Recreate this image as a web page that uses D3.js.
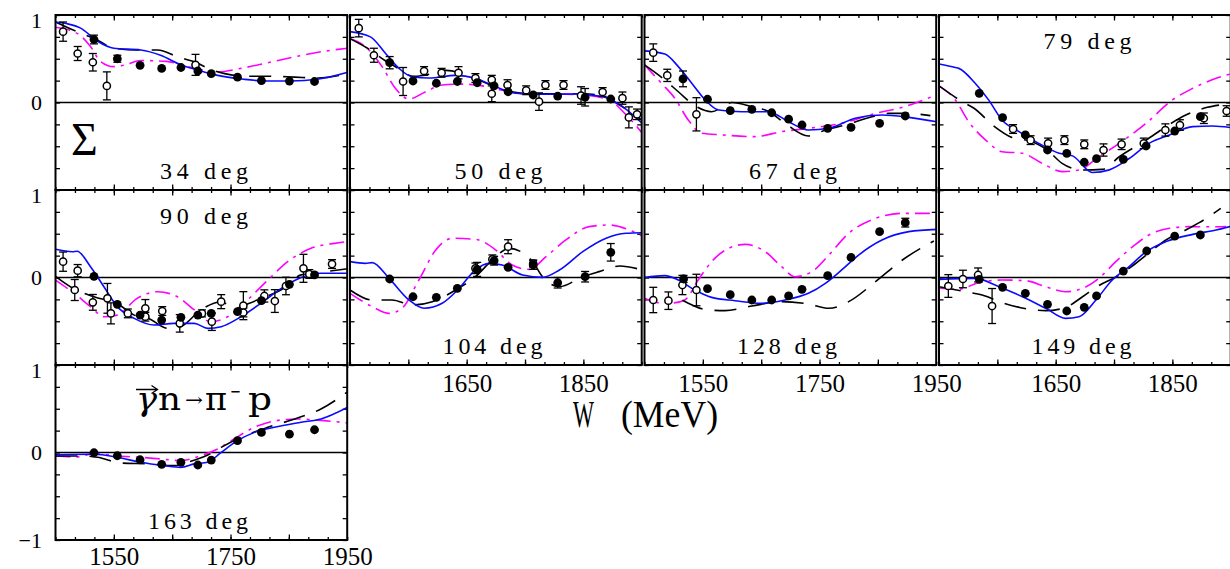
<!DOCTYPE html>
<html><head><meta charset="utf-8">
<script src="https://cdn.jsdelivr.net/npm/d3@7"></script>
<style>body{margin:0;background:#fff}svg{display:block}</style>
</head><body>
<svg id="chart" width="1230" height="569"></svg>
<script>
// ---------------- DATA ----------------
const panelAngles = ["34 deg","50 deg","67 deg","79 deg","90 deg","104 deg","128 deg","149 deg","163 deg"];
const wDomain = [1450, 1950];
const sigmaDomain = [-1, 1];
const xLabelsEven = [1550, 1750, 1950];
const xLabelsOdd = [1650, 1850];
const yLabelsTop = [1, 0];
const yLabelsBottom = [1, 0, -1];

// open circles: [W, Sigma, error]
const openPoints = [
  [[1463,0.81,0.11],[1488,0.56,0.08],[1514,0.46,0.10],[1538,0.19,0.16],[1690,0.43,0.12]],
  [[1465,0.85,0.10],[1491,0.54,0.08],[1541,0.24,0.16],[1577,0.36,0.05],[1607,0.34,0.05],[1636,0.34,0.07],[1665,0.28,0.05],[1693,0.26,0.05],[1693,0.10,0.09],[1720,0.20,0.06],[1752,0.14,0.05],[1774,0.01,0.10],[1785,0.20,0.05],[1816,0.20,0.05],[1846,0.08,0.10],[1883,0.12,0.05],[1917,0.05,0.07],[1928,-0.17,0.12],[1942,-0.135,0.06]],
  [[1465,0.57,0.10],[1489,0.31,0.07],[1539,-0.135,0.19]],
  [[1577,-0.303,0.05],[1607,-0.43,0.05],[1637,-0.467,0.06],[1665,-0.43,0.05],[1699,-0.478,0.05],[1732,-0.543,0.07],[1763,-0.478,0.06],[1801,-0.467,0.06],[1838,-0.314,0.07],[1863,-0.257,0.06],[1904,-0.18,0.06],[1943,-0.097,0.06]],
  [[1463,0.181,0.11],[1488,0.078,0.07],[1483,-0.143,0.12],[1514,-0.284,0.09],[1539,-0.238,0.17],[1545,-0.41,0.12],[1574,-0.41,0.05],[1604,-0.352,0.10],[1604,-0.448,0.05],[1633,-0.383,0.05],[1663,-0.524,0.10],[1701,-0.41,0.04],[1718,-0.505,0.10],[1734,-0.276,0.08],[1772,-0.322,0.16],[1772,-0.40,0.05],[1808,-0.211,0.07],[1826,-0.269,0.13],[1845,-0.097,0.10],[1875,0.105,0.16],[1885,0.04,0.05],[1924,0.154,0.05]],
  [[1665,0.105,0.06],[1694,0.208,0.05],[1721,0.352,0.08],[1764,0.16,0.04]],
  [[1465,-0.257,0.145],[1491,-0.265,0.10],[1515,-0.086,0.11],[1539,-0.143,0.18]],
  [[1466,-0.097,0.13],[1491,-0.017,0.10],[1517,0.029,0.08],[1541,-0.326,0.20]],
  []
];

// filled circles: [W, Sigma, error]
const solidPoints = [
  [[1516,0.72,0.05],[1556,0.50,0.04],[1595,0.425,0],[1632,0.39,0],[1665,0.40,0],[1694,0.36,0],[1717,0.33,0],[1762,0.29,0],[1803,0.25,0],[1851,0.245,0],[1894,0.24,0]],
  [[1518,0.455,0.07],[1558,0.246,0],[1598,0.22,0],[1634,0.24,0],[1668,0.226,0],[1697,0.19,0],[1721,0.123,0],[1764,0.086,0],[1806,0.074,0],[1853,0.06,0.10],[1897,0.04,0]],
  [[1516,0.27,0.09],[1558,0.037,0],[1597,-0.093,0],[1634,-0.078,0],[1668,-0.117,0],[1697,-0.19,0],[1720,-0.257,0],[1764,-0.295,0],[1804,-0.284,0],[1853,-0.238,0],[1897,-0.154,0]],
  [[1519,0.105,0],[1559,-0.173,0],[1598,-0.371,0],[1636,-0.543,0],[1669,-0.581,0],[1699,-0.683,0],[1720,-0.642,0],[1766,-0.649,0],[1805,-0.497,0],[1854,-0.326,0],[1898,-0.162,0]],
  [[1516,0.013,0],[1556,-0.306,0],[1595,-0.429,0],[1632,-0.486,0],[1665,-0.455,0],[1694,-0.429,0],[1717,-0.41,0],[1762,-0.39,0],[1803,-0.265,0],[1851,-0.078,0],[1894,0.029,0]],
  [[1518,-0.017,0],[1558,-0.22,0],[1598,-0.227,0],[1634,-0.124,0],[1668,0.093,0.08],[1697,0.192,0.05],[1721,0.116,0],[1764,0.143,0.05],[1806,-0.06,0.06],[1853,0.009,0.06],[1897,0.288,0.10]],
  [[1517,-0.017,0.04],[1558,-0.128,0],[1597,-0.196,0],[1634,-0.257,0],[1668,-0.257,0],[1697,-0.211,0],[1720,-0.135,0],[1764,0.021,0],[1804,0.23,0],[1853,0.524,0],[1897,0.627,0.05]],
  [[1519,-0.021,0],[1559,-0.112,0],[1598,-0.181,0],[1636,-0.307,0],[1669,-0.383,0],[1699,-0.341,0],[1720,-0.211,0],[1766,0.074,0],[1806,0.303,0],[1854,0.474,0],[1898,0.486,0]],
  [[1516,-0.003,0],[1556,-0.037,0],[1595,-0.083,0],[1632,-0.135,0],[1665,-0.112,0],[1694,-0.143,0],[1717,-0.086,0],[1762,0.135,0],[1803,0.23,0],[1851,0.21,0],[1894,0.26,0]]
];

// solid blue curves: [W, Sigma]
const blueCurves = [
  [[1450,0.92],[1470,0.90],[1493,0.85],[1522,0.70],[1550,0.62],[1596,0.60],[1630,0.54],[1665,0.43],[1699,0.36],[1728,0.31],[1773,0.265],[1813,0.245],[1854,0.245],[1899,0.265],[1951,0.345]],
  [[1450,0.81],[1485,0.75],[1511,0.56],[1534,0.39],[1556,0.295],[1586,0.28],[1631,0.31],[1665,0.276],[1700,0.18],[1734,0.105],[1780,0.094],[1837,0.097],[1883,0.067],[1917,-0.048],[1951,-0.24]],
  [[1450,0.59],[1485,0.554],[1508,0.41],[1531,0.22],[1554,0.03],[1577,-0.086],[1617,-0.105],[1662,-0.105],[1697,-0.22],[1731,-0.314],[1766,-0.295],[1811,-0.18],[1857,-0.143],[1903,-0.17],[1951,-0.22]],
  [[1450,0.44],[1478,0.40],[1484,0.39],[1512,0.22],[1535,0.03],[1558,-0.2],[1587,-0.333],[1621,-0.467],[1656,-0.58],[1679,-0.61],[1713,-0.80],[1742,-0.77],[1776,-0.64],[1810,-0.467],[1845,-0.371],[1885,-0.276],[1919,-0.269],[1953,-0.29]],
  [[1450,0.322],[1479,0.295],[1487,0.30],[1510,0.124],[1533,-0.105],[1556,-0.333],[1585,-0.467],[1619,-0.543],[1653,-0.524],[1688,-0.524],[1711,-0.581],[1734,-0.562],[1768,-0.448],[1802,-0.295],[1837,-0.124],[1871,0.0],[1905,0.048],[1951,0.048]],
  [[1450,0.181],[1476,0.162],[1488,0.17],[1517,-0.01],[1551,-0.257],[1577,-0.352],[1608,-0.295],[1637,-0.124],[1665,0.086],[1688,0.162],[1711,0.143],[1746,0.029],[1780,0.002],[1809,0.086],[1849,0.295],[1889,0.448],[1923,0.505],[1951,0.512]],
  [[1450,0.0],[1485,0.021],[1508,-0.029],[1536,-0.143],[1565,-0.227],[1605,-0.265],[1651,-0.295],[1691,-0.257],[1731,-0.181],[1760,-0.067],[1788,0.086],[1817,0.257],[1857,0.429],[1903,0.524],[1951,0.55]],
  [[1450,-0.021],[1512,-0.01],[1553,-0.105],[1593,-0.22],[1633,-0.352],[1667,-0.467],[1690,-0.448],[1719,-0.257],[1747,-0.029],[1776,0.124],[1805,0.295],[1839,0.41],[1885,0.493],[1925,0.543],[1953,0.589]],
  [[1450,-0.025],[1516,-0.02],[1556,-0.055],[1596,-0.112],[1636,-0.15],[1665,-0.17],[1688,-0.13],[1711,-0.112],[1734,0.002],[1762,0.135],[1791,0.23],[1825,0.288],[1871,0.345],[1905,0.383],[1951,0.517]]
];

// black dashed curves: [W, Sigma]
const blackCurves = [
  [[1450,0.92],[1490,0.80],[1520,0.72],[1550,0.62],[1590,0.60],[1625,0.60],[1660,0.52],[1690,0.46],[1715,0.38],[1740,0.33],[1780,0.30],[1820,0.30],[1860,0.29],[1900,0.28],[1951,0.33]],
  [[1450,0.73],[1480,0.62],[1510,0.48],[1530,0.40],[1545,0.33],[1560,0.30],[1590,0.33],[1610,0.37],[1640,0.34],[1670,0.26],[1700,0.18],[1730,0.12],[1760,0.10],[1800,0.10],[1850,0.10],[1880,0.08],[1910,-0.02],[1950,-0.20]],
  [[1450,0.43],[1485,0.257],[1508,0.123],[1539,-0.048],[1565,-0.105],[1600,0.0],[1634,-0.048],[1662,-0.10],[1691,-0.238],[1731,-0.383],[1760,-0.314],[1794,-0.257],[1840,-0.162],[1869,-0.124],[1897,-0.124],[1940,-0.15]],
  [[1450,0.19],[1490,0.009],[1510,-0.066],[1544,-0.269],[1575,-0.40],[1610,-0.448],[1635,-0.54],[1661,-0.695],[1696,-0.771],[1730,-0.764],[1759,-0.62],[1805,-0.43],[1839,-0.276],[1873,-0.143],[1910,-0.055],[1930,-0.03]],
  [[1450,0.013],[1483,-0.135],[1516,-0.22],[1556,-0.30],[1585,-0.43],[1610,-0.47],[1642,-0.581],[1665,-0.56],[1699,-0.371],[1733,-0.28],[1760,-0.35],[1780,-0.30],[1802,-0.24],[1837,-0.14],[1871,0.03],[1905,0.06],[1951,0.10]],
  [[1450,-0.143],[1488,-0.257],[1522,-0.257],[1557,-0.314],[1591,-0.276],[1631,-0.143],[1665,0.009],[1694,0.2],[1723,0.333],[1763,0.181],[1780,0.009],[1809,-0.105],[1849,0.009],[1877,0.067],[1912,0.131],[1951,0.086]],
  [[1515,-0.26],[1559,-0.371],[1588,-0.379],[1634,-0.326],[1685,-0.276],[1731,-0.303],[1766,-0.352],[1800,-0.276],[1846,-0.048],[1892,0.2],[1946,0.417]],
  [[1450,-0.105],[1495,-0.162],[1524,-0.2],[1561,-0.295],[1590,-0.345],[1633,-0.379],[1664,-0.35],[1696,-0.22],[1719,-0.112],[1759,0.029],[1787,0.16],[1816,0.314],[1839,0.429],[1873,0.543],[1896,0.627],[1933,0.79]],
  [[1450,-0.04],[1500,-0.04],[1522,-0.055],[1562,-0.12],[1608,-0.13],[1655,-0.15],[1676,-0.112],[1711,-0.029],[1734,0.059],[1768,0.173],[1814,0.288],[1860,0.383],[1905,0.497],[1951,0.695]]
];

// magenta dash-dot curves: [W, Sigma]
const magentaCurves = [
  [[1450,0.86],[1487,0.79],[1510,0.64],[1527,0.47],[1550,0.41],[1570,0.43],[1596,0.48],[1640,0.47],[1676,0.41],[1728,0.35],[1768,0.39],[1814,0.455],[1859,0.52],[1905,0.58],[1951,0.62]],
  [[1450,0.73],[1476,0.64],[1505,0.41],[1528,0.16],[1551,0.04],[1579,0.12],[1608,0.20],[1642,0.21],[1677,0.19],[1711,0.14],[1757,0.094],[1808,0.097],[1849,0.086],[1894,0.03],[1923,-0.14],[1951,-0.35]],
  [[1450,0.43],[1479,0.22],[1502,0.048],[1525,-0.2],[1548,-0.352],[1582,-0.37],[1640,-0.39],[1685,-0.333],[1731,-0.295],[1788,-0.238],[1846,-0.124],[1892,-0.055],[1951,0.09]],
  [[1450,0.19],[1478,0.029],[1501,-0.22],[1530,-0.43],[1558,-0.562],[1593,-0.58],[1627,-0.695],[1661,-0.79],[1690,-0.771],[1724,-0.62],[1759,-0.467],[1805,-0.238],[1850,0.029],[1885,0.162],[1925,0.276],[1953,0.333]],
  [[1450,-0.029],[1482,-0.181],[1510,-0.333],[1533,-0.448],[1556,-0.43],[1590,-0.238],[1625,-0.162],[1659,-0.22],[1688,-0.371],[1716,-0.505],[1745,-0.448],[1779,-0.257],[1814,-0.029],[1848,0.181],[1888,0.333],[1928,0.39],[1951,0.41]],
  [[1450,-0.181],[1488,-0.333],[1517,-0.41],[1539,-0.352],[1568,-0.029],[1597,0.314],[1625,0.448],[1665,0.436],[1700,0.314],[1728,0.143],[1757,0.093],[1786,0.238],[1820,0.429],[1860,0.581],[1895,0.6],[1929,0.543],[1951,0.474]],
  [[1450,-0.238],[1474,-0.288],[1500,-0.29],[1519,-0.257],[1542,-0.029],[1565,0.181],[1594,0.333],[1623,0.379],[1657,0.295],[1685,0.124],[1708,0.009],[1737,0.067],[1766,0.257],[1800,0.505],[1846,0.676],[1892,0.733],[1951,0.733]],
  [[1450,-0.12],[1481,-0.135],[1524,-0.048],[1558,-0.029],[1598,-0.036],[1633,-0.105],[1667,-0.162],[1696,-0.124],[1724,-0.01],[1753,0.181],[1782,0.352],[1810,0.486],[1845,0.562],[1879,0.581],[1910,0.58],[1942,0.581]],
  [[1450,-0.04],[1487,-0.05],[1516,-0.01],[1556,-0.04],[1596,-0.055],[1630,-0.074],[1665,-0.093],[1699,-0.036],[1728,0.04],[1756,0.155],[1791,0.288],[1825,0.36],[1865,0.383],[1900,0.37],[1951,0.337]]
];

// ---------------- LAYOUT ----------------
const svg = d3.select("#chart");
const PW = 291.7, PH = 175;
const colLeft = [55.5, 350, 644.5, 939];
const rowTop = [15, 190, 365];
const serif = "'Liberation Serif','Times New Roman',serif";
const wideSerif = "'DejaVu Serif',serif";
const minorTicks = d3.range(0, 16).map(i => wDomain[0] + i * (wDomain[1]-wDomain[0]) / 15);
const majorTicks = [1550, 1650, 1750, 1850];
const yTicks = d3.range(-1, 1.001, 0.25);
const fmtY = d => d < 0 ? "\u2212" + Math.abs(d) : String(d);

const defs = svg.append("defs");

panelAngles.forEach((label, i) => {
  const col = i % 4, row = Math.floor(i / 4);
  const left = colLeft[col], top = rowTop[row];
  const x = d3.scaleLinear().domain(wDomain).range([left, left + PW]);
  const y = d3.scaleLinear().domain(sigmaDomain).range([top + PH, top]);
  const g = svg.append("g");

  defs.append("clipPath").attr("id", "clip" + i)
    .append("rect").attr("x", left).attr("y", top).attr("width", PW).attr("height", PH);

  const styleAxis = sel => { sel.select(".domain").remove(); sel.selectAll(".tick line").attr("stroke", "#000").attr("stroke-width", 1.3); };
  g.append("g").attr("transform", `translate(0,${top + PH})`)
    .call(d3.axisBottom(x).tickValues(minorTicks).tickSize(-3).tickFormat("")).call(styleAxis);
  g.append("g").attr("transform", `translate(0,${top + PH})`)
    .call(d3.axisBottom(x).tickValues(majorTicks).tickSize(-5.5).tickFormat("")).call(styleAxis);
  g.append("g").attr("transform", `translate(0,${top})`)
    .call(d3.axisTop(x).tickValues(minorTicks).tickSize(-3).tickFormat("")).call(styleAxis);
  g.append("g").attr("transform", `translate(0,${top})`)
    .call(d3.axisTop(x).tickValues(majorTicks).tickSize(-5.5).tickFormat("")).call(styleAxis);
  g.append("g").attr("transform", `translate(${left},0)`)
    .call(d3.axisLeft(y).tickValues(yTicks).tickSize(-4.5).tickFormat("")).call(styleAxis);
  g.append("g").attr("transform", `translate(${left + PW},0)`)
    .call(d3.axisRight(y).tickValues(yTicks).tickSize(-4.5).tickFormat("")).call(styleAxis);

  g.append("line").attr("x1", left).attr("x2", left + PW).attr("y1", y(0)).attr("y2", y(0))
    .attr("stroke", "#000").attr("stroke-width", 1.6);

  const line = d3.line().x(d => x(d[0])).y(d => y(d[1])).curve(d3.curveMonotoneX);
  const cg = g.append("g").attr("clip-path", `url(#clip${i})`).attr("fill", "none");
  cg.append("path").datum(magentaCurves[i]).attr("d", line)
    .attr("stroke", "#ff00ff").attr("stroke-width", 1.6).attr("stroke-dasharray", "15,6,3,6");
  cg.append("path").datum(blackCurves[i]).attr("d", line)
    .attr("stroke", "#000").attr("stroke-width", 1.6).attr("stroke-dasharray", "22,12");
  cg.append("path").datum(blueCurves[i]).attr("d", line)
    .attr("stroke", "#0a0aff").attr("stroke-width", 1.6);

  const allPts = openPoints[i].concat(solidPoints[i]).filter(d => d[2] > 0);
  const eb = g.append("g").attr("stroke", "#000").attr("stroke-width", 1.3);
  allPts.forEach(d => {
    const cx = x(d[0]);
    eb.append("line").attr("x1", cx).attr("x2", cx).attr("y1", y(d[1] - d[2])).attr("y2", y(d[1] + d[2]));
    eb.append("line").attr("x1", cx - 4).attr("x2", cx + 4).attr("y1", y(d[1] - d[2])).attr("y2", y(d[1] - d[2]));
    eb.append("line").attr("x1", cx - 4).attr("x2", cx + 4).attr("y1", y(d[1] + d[2])).attr("y2", y(d[1] + d[2]));
  });

  g.append("g").selectAll("circle").data(openPoints[i]).join("circle")
    .attr("cx", d => x(d[0])).attr("cy", d => y(d[1])).attr("r", 3.6)
    .attr("fill", "#fff").attr("stroke", "#000").attr("stroke-width", 1.5);
  g.append("g").selectAll("circle").data(solidPoints[i]).join("circle")
    .attr("cx", d => x(d[0])).attr("cy", d => y(d[1])).attr("r", 4.4).attr("fill", "#000");

  g.append("rect").attr("x", left).attr("y", top).attr("width", PW).attr("height", PH)
    .attr("fill", "none").attr("stroke", "#000").attr("stroke-width", 2);

  const labelTop = (i === 3 || i === 4);
  g.append("text").attr("x", left + 192.5).attr("y", labelTop ? top + 33.5 : top + 164)
    .attr("text-anchor", "end").attr("font-family", serif).attr("font-size", 24)
    .attr("textLength", label.length === 6 ? 88 : 100).attr("lengthAdjust", "spacing")
    .text(label);

  if (col === 0) {
    const ya = g.append("g").attr("transform", `translate(${left},0)`)
      .call(d3.axisLeft(y).tickValues(row === 2 ? yLabelsBottom : yLabelsTop).tickSize(0).tickPadding(13.5).tickFormat(fmtY));
    ya.select(".domain").remove();
    ya.selectAll("text").attr("font-family", serif).attr("font-size", 22).attr("fill", "#000")
      .attr("dy", d => d === 1 ? "0.55em" : "0.33em");
  }
  if ((row === 2) || (row === 1 && col > 0)) {
    const xa = g.append("g").attr("transform", `translate(0,${top + PH})`)
      .call(d3.axisBottom(x).tickValues(col % 2 === 0 ? xLabelsEven : xLabelsOdd).tickSize(0).tickPadding(row === 2 ? 7 : 9).tickFormat(d3.format("d")));
    xa.select(".domain").remove();
    xa.selectAll("text").attr("font-family", serif).attr("font-size", 25).attr("fill", "#000");
  }
});

// Sigma label in first panel
svg.append("text").attr("x", 71).attr("y", 155).attr("font-family", serif).attr("font-size", 46).text("Σ");

// reaction label in last panel (arrow over gamma drawn as a small path)
svg.append("path").attr("d", "M136,389.5 H157 M151.5,385.5 L157.5,389.5 L151.5,393.5")
  .attr("fill", "none").attr("stroke", "#000").attr("stroke-width", 1.3);
const rx = svg.append("g").attr("font-family", wideSerif).attr("fill", "#000");
rx.append("text").attr("x", 136).attr("y", 410).attr("font-size", 32).attr("font-style", "italic")
  .attr("textLength", 21).attr("lengthAdjust", "spacingAndGlyphs").text("γ");
rx.append("text").attr("x", 158).attr("y", 410).attr("font-size", 32)
  .attr("textLength", 23).attr("lengthAdjust", "spacingAndGlyphs").text("n");
rx.append("text").attr("x", 185).attr("y", 406).attr("font-size", 18)
  .attr("textLength", 18).attr("lengthAdjust", "spacingAndGlyphs").text("→");
rx.append("text").attr("x", 205).attr("y", 410).attr("font-size", 32)
  .attr("textLength", 22).attr("lengthAdjust", "spacingAndGlyphs").text("π");
rx.append("text").attr("x", 230).attr("y", 398).attr("font-size", 20)
  .attr("textLength", 11).attr("lengthAdjust", "spacingAndGlyphs").text("−");
rx.append("text").attr("x", 248).attr("y", 410).attr("font-size", 32)
  .attr("textLength", 24).attr("lengthAdjust", "spacingAndGlyphs").text("p");

// axis title
svg.append("text").attr("x", 573).attr("y", 427).attr("font-family", serif).attr("font-size", 37)
  .attr("textLength", 21).attr("lengthAdjust", "spacingAndGlyphs").text("W");
svg.append("text").attr("x", 621).attr("y", 427).attr("font-family", serif).attr("font-size", 37)
  .attr("textLength", 97).attr("lengthAdjust", "spacingAndGlyphs").text("(MeV)");
</script>
</body></html>
